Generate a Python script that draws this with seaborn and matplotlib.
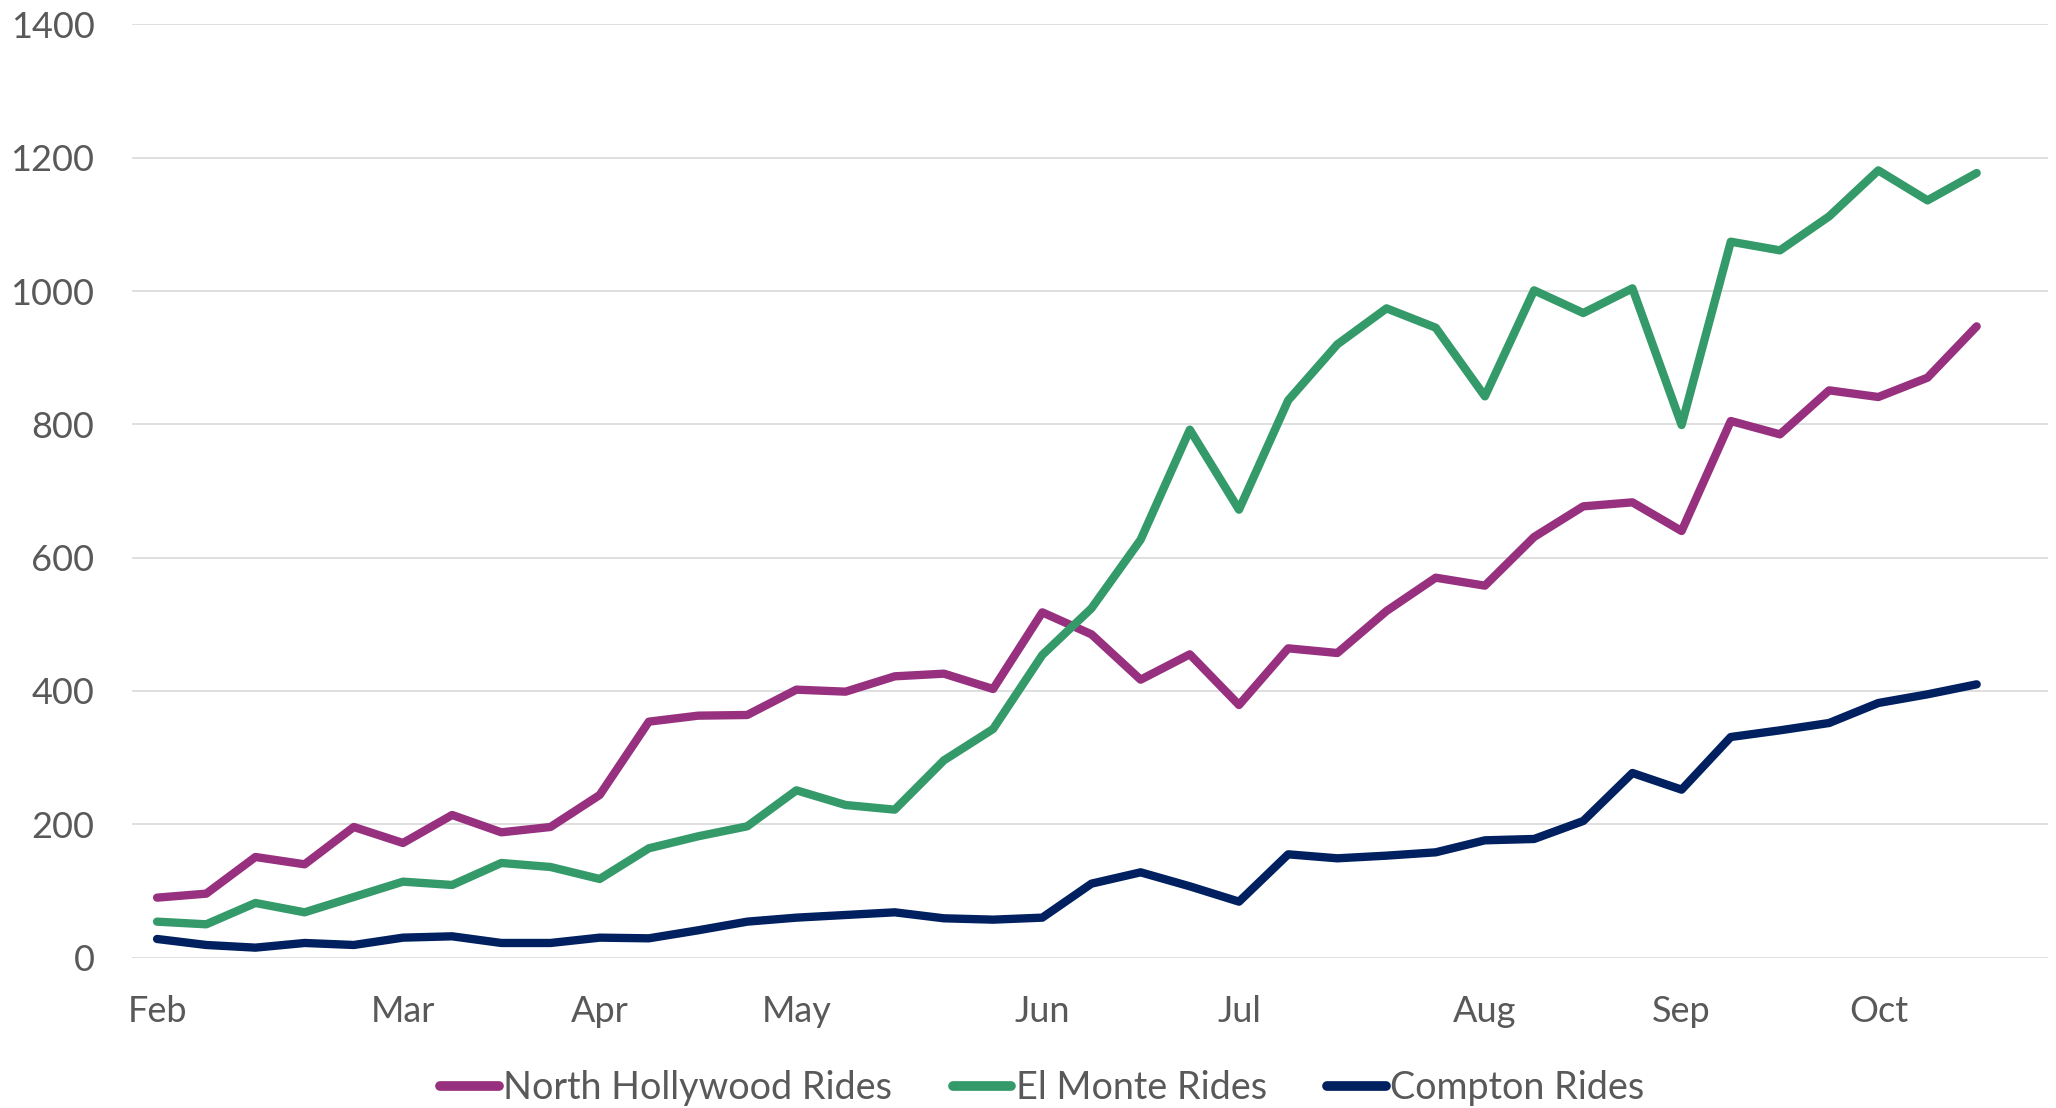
import matplotlib
matplotlib.use("Agg")
import matplotlib.pyplot as plt
import pandas as pd
import seaborn as sns

# weekly ride counts, Feb through Oct
week = list(range(38))
north_hollywood = [90, 96, 151, 140, 196, 172, 214, 188, 196, 244,
                   354, 363, 364, 402, 399, 422, 426, 403, 518, 485,
                   417, 455, 379, 464, 457, 520, 570, 558, 631, 677,
                   683, 640, 805, 785, 851, 841, 870, 947]
el_monte = [54, 50, 82, 68, 91, 114, 109, 142, 136, 118,
            164, 182, 197, 251, 229, 222, 296, 343, 454, 524,
            627, 792, 672, 836, 920, 974, 945, 842, 1001, 967,
            1004, 799, 1074, 1061, 1112, 1181, 1136, 1177]
compton = [28, 19, 15, 22, 19, 30, 32, 22, 22, 30,
           29, 41, 54, 60, 64, 68, 59, 57, 60, 111,
           128, 107, 84, 155, 149, 153, 158, 176, 178, 205,
           277, 252, 331, 341, 352, 382, 395, 410]

month_labels = ["Feb", "Mar", "Apr", "May", "Jun", "Jul", "Aug", "Sep", "Oct"]
month_weeks = [0, 5, 9, 13, 18, 22, 27, 31, 35]

series_names = ["North Hollywood Rides", "El Monte Rides", "Compton Rides"]
colors = ["#97307E", "#359A69", "#002060"]

df = pd.concat([
    pd.DataFrame({"week": week, "rides": north_hollywood, "series": series_names[0]}),
    pd.DataFrame({"week": week, "rides": el_monte, "series": series_names[1]}),
    pd.DataFrame({"week": week, "rides": compton, "series": series_names[2]}),
])

sns.set_theme(style="white")
plt.rcParams["font.family"] = ["Lato", "DejaVu Sans"]

fig = plt.figure(figsize=(20.56, 11.08), dpi=100)
ax = fig.add_axes([0.0642, 0.1357, 0.9319, 0.8423])

sns.lineplot(data=df, x="week", y="rides", hue="series", hue_order=series_names,
             palette=colors, linewidth=6, ax=ax)
for line in ax.lines:
    line.set_solid_capstyle("round")
    line.set_solid_joinstyle("round")

ax.set_xlim(-0.51, 38.45)
ax.set_ylim(0, 1400)
ax.set_yticks(range(0, 1401, 200))
ax.set_xticks(month_weeks)
ax.set_xticklabels(month_labels)
ax.set_xlabel("")
ax.set_ylabel("")

ax.grid(axis="y", color="#D9D9D9", linewidth=1.2)
ax.grid(axis="x", visible=False)
for s in ax.spines.values():
    s.set_visible(False)
ax.tick_params(axis="both", length=0, labelsize=26, labelcolor="#595959")
ax.tick_params(axis="y", pad=27)
ax.tick_params(axis="x", pad=27)

handles, labels = ax.get_legend_handles_labels()
ax.get_legend().remove()
leg = fig.legend(handles, labels, loc="center", bbox_to_anchor=(0.507, 0.018), ncol=3,
                 frameon=False, fontsize=27.2, handlelength=1.55, handletextpad=0.12,
                 columnspacing=1.6, borderaxespad=0)
for t in leg.get_texts():
    t.set_color("#595959")
for h in leg.get_lines():
    h.set_linewidth(7)
    h.set_solid_capstyle("round")

fig.savefig("out.png", dpi=100)
